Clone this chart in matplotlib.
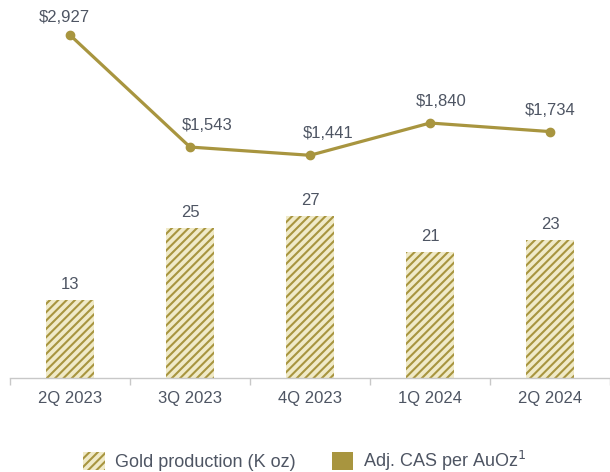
import matplotlib
matplotlib.use("Agg")
import matplotlib.pyplot as plt
from matplotlib.patches import Patch

quarters = ["2Q 2023", "3Q 2023", "4Q 2023", "1Q 2024", "2Q 2024"]
gold_production = [13, 25, 27, 21, 23]          # K oz
adj_cas = [2927, 1543, 1441, 1840, 1734]        # USD per AuOz

# horizontal nudges (points) for the cost labels so they clear the line
cas_label_dx = [-4, 12, 13, 8, 0]

GOLD = "#A8953F"
CREAM = "#F0EAC8"
TEXT = "#4E5563"
AXIS = "#C8C8C8"

plt.rcParams["font.family"] = ["Liberation Sans", "DejaVu Sans"]
plt.rcParams["hatch.linewidth"] = 1.5
plt.rcParams["hatch.color"] = GOLD

fig = plt.figure(figsize=(6.10, 4.72), dpi=100)
ax = fig.add_axes([10 / 610, 94 / 472, 600 / 610, 378 / 472])

x = list(range(len(quarters)))
ax.bar(x, gold_production, width=0.4, color=CREAM, edgecolor=GOLD,
       hatch="////", linewidth=0)
for xi, v in zip(x, gold_production):
    ax.annotate(f"{v}", (xi, v), xytext=(0, 6), textcoords="offset points",
                ha="center", va="bottom", fontsize=12, color=TEXT)

ax.set_xlim(-0.5, len(quarters) - 0.5)
ax.set_ylim(0, 63)
ax.set_xticks(x)
ax.set_xticklabels(quarters, fontsize=12, color=TEXT)
ax.tick_params(axis="x", which="major", length=0, pad=9)
ax.set_xticks([i - 0.5 for i in range(len(quarters) + 1)], minor=True)
ax.tick_params(axis="x", which="minor", length=5, color=AXIS, width=1)
ax.set_yticks([])
for side in ("top", "left", "right"):
    ax.spines[side].set_visible(False)
ax.spines["bottom"].set_color(AXIS)
ax.spines["bottom"].set_linewidth(1)

ax2 = ax.twinx()
ax2.plot(x, adj_cas, color=GOLD, linewidth=2.3, marker="o", markersize=6,
         solid_capstyle="round")
for i, (xi, v) in enumerate(zip(x, adj_cas)):
    dy = 7 if i == 0 else 10
    ax2.annotate(f"${v:,}", (xi, v), xytext=(cas_label_dx[i], dy),
                 textcoords="offset points",
                 ha="center", va="bottom", fontsize=12, color=TEXT)
ax2.set_ylim(-1311, 3360)
ax2.set_yticks([])
for side in ("top", "left", "right", "bottom"):
    ax2.spines[side].set_visible(False)

handles = [
    Patch(facecolor=CREAM, edgecolor=GOLD, hatch="////", linewidth=0,
          label="Gold production (K oz)"),
    Patch(facecolor=GOLD, edgecolor=GOLD, linewidth=0,
          label="Adj. CAS per AuOz$^{1}$"),
]
fig.legend(handles=handles, loc="center", bbox_to_anchor=(0.5, 0.023),
           ncol=2, frameon=False, fontsize=13, labelcolor=TEXT,
           handlelength=1.2, handleheight=1.1, handletextpad=0.55,
           columnspacing=2.0)

fig.savefig("out.png", dpi=100)
